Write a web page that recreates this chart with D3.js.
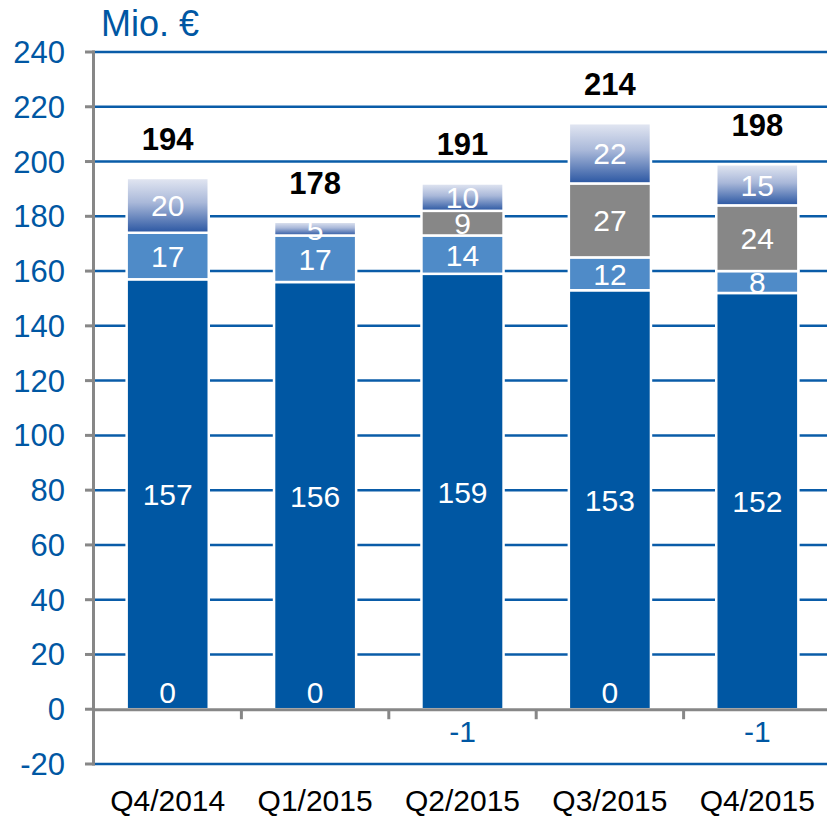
<!DOCTYPE html>
<html>
<head>
<meta charset="utf-8">
<script src="https://cdn.jsdelivr.net/npm/d3@7"></script>
<style>
  html, body { margin: 0; padding: 0; background: #fff; }
  svg { display: block; font-family: "Liberation Sans", Arial, sans-serif; }
</style>
</head>
<body>
<svg id="chart" width="827" height="819"></svg>
<script>
const categories = ["Q4/2014", "Q1/2015", "Q2/2015", "Q3/2015", "Q4/2015"];
const baseValues  = [157, 156, 159, 153, 152];
const lightValues = [17, 17, 14, 12, 8];
const grayValues  = [0, 0, 9, 27, 24];
const topValues   = [20, 5, 10, 22, 15];
const otherValues = [0, 0, -1, 0, -1];
const totals      = [194, 178, 191, 214, 198];
const yTicks = [-20, 0, 20, 40, 60, 80, 100, 120, 140, 160, 180, 200, 220, 240];
const unitLabel = "Mio. €";

const blue = "#0057a3";
const fs = 30;
const svg = d3.select("#chart");

const x = d3.scaleBand().domain(categories).range([94, 831]).padding(0);
const y = d3.scaleLinear().domain([-20, 240]).range([764, 52]);
const barW = x.bandwidth() * 0.557;

// gradient
const defs = svg.append("defs");
const grad = defs.append("linearGradient").attr("id", "topGrad")
  .attr("x1", 0).attr("y1", 0).attr("x2", 0).attr("y2", 1);
grad.append("stop").attr("offset", "0%").attr("stop-color", "#e3e7f2");
grad.append("stop").attr("offset", "45%").attr("stop-color", "#a9b8d9");
grad.append("stop").attr("offset", "100%").attr("stop-color", "#2a56a2");

// gridlines
svg.append("g").selectAll("line")
  .data(yTicks.filter(t => t !== 0))
  .join("line")
  .attr("x1", 95).attr("x2", 827)
  .attr("y1", d => y(d)).attr("y2", d => y(d))
  .attr("stroke", "#0a5ca8").attr("stroke-width", 2.5);

// stack
const series = [
  { key: "base", values: baseValues, fill: blue },
  { key: "light", values: lightValues, fill: "#4f8bc8" },
  { key: "gray", values: grayValues, fill: "#878787" },
  { key: "top", values: topValues, fill: "url(#topGrad)" }
];

const segs = [];
categories.forEach((c, i) => {
  let acc = 0;
  series.forEach(s => {
    const v = s.values[i];
    segs.push({ cat: c, key: s.key, v, y0: acc, y1: acc + v, fill: s.fill });
    acc += v;
  });
});

const barG = svg.append("g");
barG.selectAll("rect")
  .data(segs.filter(d => d.v > 0))
  .join("rect")
  .attr("x", d => x(d.cat) + (x.bandwidth() - barW) / 2)
  .attr("width", barW)
  .attr("y", d => y(d.y1))
  .attr("height", d => y(d.y0) - y(d.y1))
  .attr("fill", d => d.fill)
  .attr("stroke", "#fff").attr("stroke-width", 2.5);

// segment labels
svg.append("g").selectAll("text")
  .data(segs.filter(d => d.v > 0))
  .join("text")
  .attr("x", d => x(d.cat) + x.bandwidth() / 2)
  .attr("y", d => (y(d.y0) + y(d.y1)) / 2 + 11)
  .attr("text-anchor", "middle")
  .attr("font-size", fs)
  .attr("fill", "#fff")
  .text(d => d.v);

// other series labels (0 inside bar, negatives below axis)
svg.append("g").selectAll("text")
  .data(categories.map((c, i) => ({ cat: c, v: otherValues[i] })))
  .join("text")
  .attr("x", d => x(d.cat) + x.bandwidth() / 2)
  .attr("y", d => d.v < 0 ? y(0) + 33 : y(0) - 6)
  .attr("text-anchor", "middle")
  .attr("font-size", fs)
  .attr("fill", d => d.v < 0 ? blue : "#fff")
  .text(d => d.v);

// totals
svg.append("g").selectAll("text")
  .data(categories.map((c, i) => ({ cat: c, total: totals[i],
    top: baseValues[i] + lightValues[i] + grayValues[i] + topValues[i] })))
  .join("text")
  .attr("x", d => x(d.cat) + x.bandwidth() / 2)
  .attr("y", d => y(d.top) - 28)
  .attr("text-anchor", "middle")
  .attr("font-size", 31)
  .attr("font-weight", "bold")
  .attr("fill", "#000")
  .text(d => d.total);

// y axis
const axisGray = "#878787";
svg.append("line")
  .attr("x1", 93.5).attr("x2", 93.5)
  .attr("y1", y(240) - 1.5).attr("y2", y(-20) + 1.5)
  .attr("stroke", axisGray).attr("stroke-width", 3);
svg.append("g").selectAll("line")
  .data(yTicks).join("line")
  .attr("x1", 85).attr("x2", 95)
  .attr("y1", d => y(d)).attr("y2", d => y(d))
  .attr("stroke", axisGray).attr("stroke-width", 3);
svg.append("g").selectAll("text")
  .data(yTicks).join("text")
  .attr("x", 65)
  .attr("y", d => y(d) + 11)
  .attr("text-anchor", "end")
  .attr("font-size", 31)
  .attr("fill", blue)
  .text(d => d);

// x axis at 0
svg.append("line")
  .attr("x1", 92).attr("x2", 827)
  .attr("y1", y(0) + 0.5).attr("y2", y(0) + 0.5)
  .attr("stroke", axisGray).attr("stroke-width", 3);
svg.append("g").selectAll("line")
  .data(categories.slice(1)).join("line")
  .attr("x1", d => x(d)).attr("x2", d => x(d))
  .attr("y1", y(0)).attr("y2", y(0) + 10)
  .attr("stroke", axisGray).attr("stroke-width", 3);

// category labels
svg.append("g").selectAll("text")
  .data(categories).join("text")
  .attr("x", d => x(d) + x.bandwidth() / 2)
  .attr("y", 811)
  .attr("text-anchor", "middle")
  .attr("font-size", fs)
  .attr("fill", "#000")
  .text(d => d);

// unit label
svg.append("text")
  .attr("x", 101).attr("y", 36)
  .attr("font-size", 36)
  .attr("fill", blue)
  .text(unitLabel);
</script>
</body>
</html>
